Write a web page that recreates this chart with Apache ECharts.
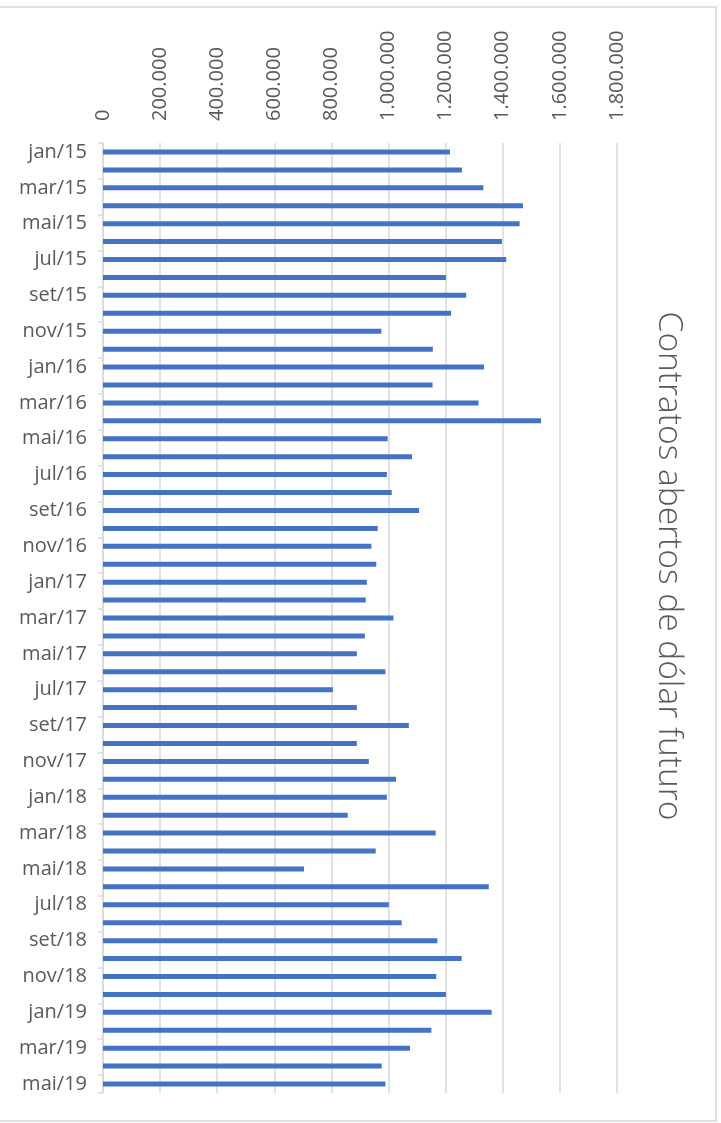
<!DOCTYPE html>
<html>
<head>
<meta charset="utf-8">
<style>
  html, body { margin: 0; padding: 0; background: #ffffff; }
  #chart { width: 721px; height: 1123px; }
</style>
<script src="https://cdn.jsdelivr.net/npm/echarts@6/dist/echarts.min.js"></script>
</head>
<body>
<div id="chart"></div>
<script>
// Monthly open interest in future dollar contracts, jan/15 to mai/19
const months = [
  'jan/15','fev/15','mar/15','abr/15','mai/15','jun/15','jul/15','ago/15','set/15','out/15','nov/15','dez/15',
  'jan/16','fev/16','mar/16','abr/16','mai/16','jun/16','jul/16','ago/16','set/16','out/16','nov/16','dez/16',
  'jan/17','fev/17','mar/17','abr/17','mai/17','jun/17','jul/17','ago/17','set/17','out/17','nov/17','dez/17',
  'jan/18','fev/18','mar/18','abr/18','mai/18','jun/18','jul/18','ago/18','set/18','out/18','nov/18','dez/18',
  'jan/19','fev/19','mar/19','abr/19','mai/19'
];

const openContracts = [
  1215000, 1257000, 1332000, 1471000, 1459000, 1397000, 1412000, 1201000, 1272000, 1219000, 975000, 1155000,
  1334000, 1154000, 1315000, 1534000, 997000, 1082000, 994000, 1011000, 1107000, 962000, 940000, 957000,
  924000, 920000, 1017000, 917000, 889000, 989000, 805000, 889000, 1071000, 889000, 931000, 1026000,
  994000, 857000, 1165000, 955000, 704000, 1351000, 1001000, 1046000, 1171000, 1256000, 1167000, 1201000,
  1361000, 1150000, 1075000, 976000, 989000
];

const chartTitle = 'Contratos abertos de dólar futuro';

const valueMin = 0;
const valueMax = 1800000;
const valueStep = 200000;

const textColor = '#595959';
const lineColor = '#d9d9d9';
const barColor = '#4472c4';
const fontFamily = '"Open Sans", "Liberation Sans", sans-serif';

// Thousands separated by dots, e.g. 1.200.000
function formatThousands(v) {
  return String(Math.round(v)).replace(/\B(?=(\d{3})+(?!\d))/g, '.');
}

const chart = echarts.init(document.getElementById('chart'), null, { renderer: 'canvas' });

chart.setOption({
  animation: false,
  backgroundColor: '#ffffff',
  grid: { left: 103, top: 143, width: 514, height: 950, containLabel: false },
  xAxis: {
    type: 'value',
    position: 'top',
    min: valueMin,
    max: valueMax,
    interval: valueStep,
    axisLine: { show: false },
    axisTick: { show: false },
    splitLine: { show: true, lineStyle: { color: lineColor, width: 1.5 } },
    axisLabel: {
      rotate: -90,
      margin: 22,
      color: textColor,
      fontFamily: fontFamily,
      fontSize: 20,
      formatter: formatThousands
    }
  },
  yAxis: {
    type: 'category',
    inverse: true,
    data: months,
    axisLine: { show: true, lineStyle: { color: lineColor, width: 1.5 } },
    axisTick: { show: true, interval: 1, length: 5, lineStyle: { color: lineColor, width: 1.5 } },
    splitLine: { show: false },
    axisLabel: {
      interval: 1,
      margin: 16,
      color: textColor,
      fontFamily: fontFamily,
      fontSize: 20
    }
  },
  series: [{
    type: 'bar',
    data: openContracts,
    barWidth: 5,
    itemStyle: { color: barColor },
    silent: true
  }],
  graphic: [
    {
      type: 'rect',
      silent: true,
      shape: { x: -2, y: 7, width: 718, height: 1114 },
      style: { fill: 'none', stroke: lineColor, lineWidth: 1.5 }
    },
    {
      type: 'text',
      silent: true,
      x: 669,
      y: 566,
      rotation: -Math.PI / 2,
      style: {
        text: chartTitle,
        fill: textColor,
        fontFamily: fontFamily,
        fontWeight: 300,
        fontSize: 33.5,
        align: 'center',
        verticalAlign: 'middle'
      }
    }
  ]
});
</script>
</body>
</html>
